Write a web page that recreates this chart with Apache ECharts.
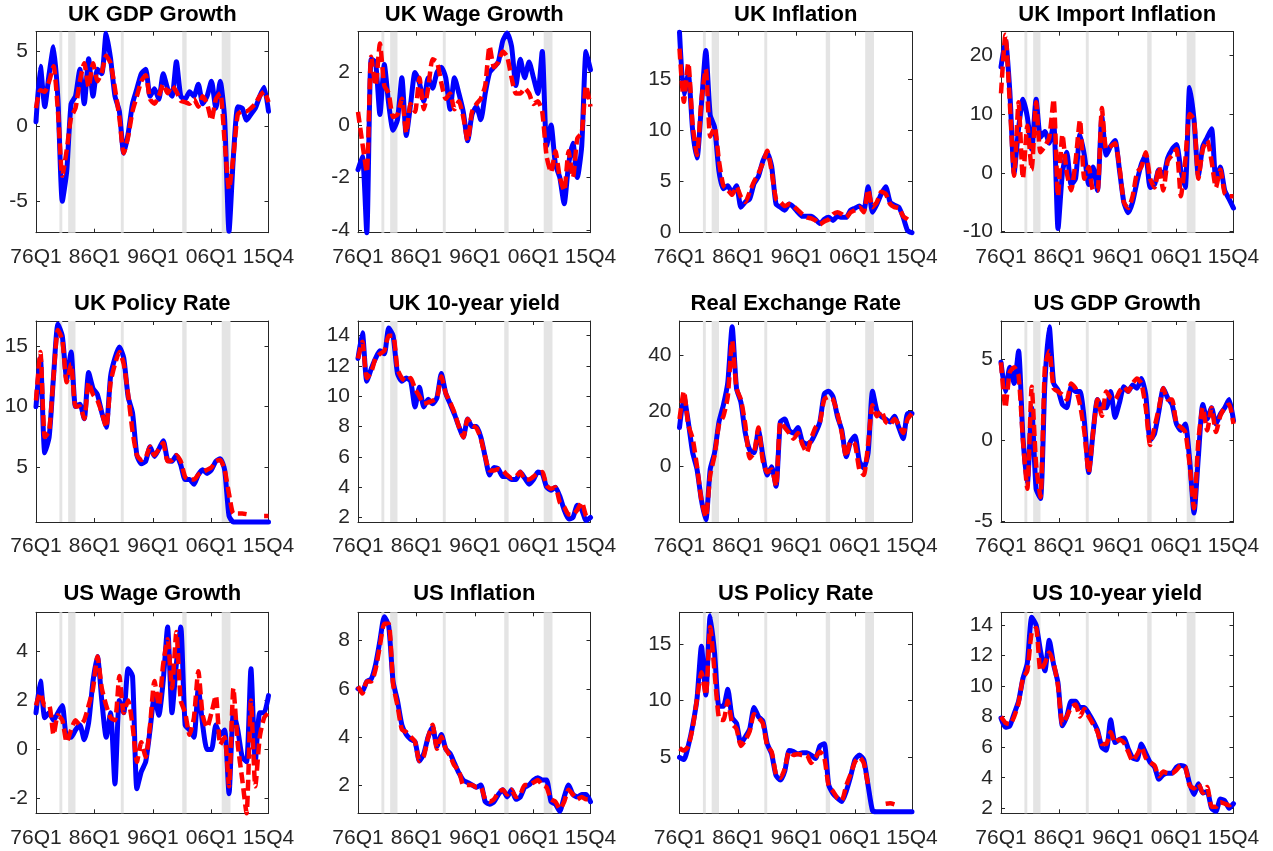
<!DOCTYPE html>
<html><head><meta charset="utf-8">
<script src="https://cdn.jsdelivr.net/npm/echarts@6/dist/echarts.min.js"></script>
<style>html,body{margin:0;padding:0;background:#fff}#c{width:1273px;height:851px}</style>
</head><body><div id="c"></div>
<script>
// quarter index: 0 = 76Q1 ... 159 = 15Q4 (sampled every 3 quarters)
const quarters = [0,3,6,9,12,15,18,21,24,27,30,33,36,39,42,45,48,51,54,57,60,63,66,69,72,75,78,81,84,87,90,93,96,99,102,105,108,111,114,117,120,123,126,129,132,135,138,141,144,147,150,153,156,159];
const xTickPos = [0,40,80,120,159];
const xTickLabels = ['76Q1','86Q1','96Q1','06Q1','15Q4'];
const recessions = [[16,18],[22,27],[58,60],[100,103],[127,133]];

const titles = ['UK GDP Growth','UK Wage Growth','UK Inflation','UK Import Inflation','UK Policy Rate','UK 10-year yield','Real Exchange Rate','US GDP Growth','US Wage Growth','US Inflation','US Policy Rate','US 10-year yield'];

const ukGdpBlue = [0.3,4.0,1.3,3.5,5.3,1.8,-5.0,-3.0,1.5, 2.0,3.8,1.5,4.5,2.0,3.8,3.5,6.2,4.5, 2.0,1.0,-1.8,-0.5,1.5,2.5,3.5,3.8,2.0, 2.5,1.8,3.5,2.5,2.0,4.3,2.0,1.8,2.3, 2.0,2.8,1.5,2.0,3.0,1.2,3.0,0.5,-7.0, -2.0,1.3,1.2,0.4,0.8,1.2,2.0,2.6,1.0];
const ukGdpRed = [1.2,2.4,2.3,3.0,4.0,1.0,-3.3,-1.6,0.6, 1.2,3.0,4.2,2.6,4.2,3.0,3.6,4.7,4.2, 2.5,0.6,-1.8,-0.7,1.0,2.0,3.0,3.4,1.8, 1.5,2.0,2.8,2.2,2.7,2.3,1.7,1.6,1.5, 1.8,1.3,2.0,1.5,0.4,1.8,2.2,-1.0,-4.2, -2.0,0.8,1.0,1.0,1.2,1.5,2.0,2.3,1.6];

const ukWageBlue = [-1.7,-1.2,-4.1,2.5,2.4,0.4,2.3,0.8,-0.2, 0.2,1.8,-0.4,0.8,2.0,1.6,0.9,1.8,1.4, 2.0,2.2,1.8,0.6,1.8,1.2,0.5,-0.6,0.4, 0.7,0.2,1.2,2.0,2.2,2.4,3.2,3.5,3.0, 1.5,2.5,1.8,2.4,1.8,1.2,2.8,-0.8,0.0, -1.5,-2.0,-3.0,-1.5,-0.7,-2.0,-0.8,2.8,2.1];
const ukWageRed = [0.5,-0.7,-1.8,2.6,1.5,3.1,1.5,1.2,0.3, 0.4,1.0,-0.3,0.8,0.5,1.8,0.6,1.4,2.5, 2.4,1.6,1.0,1.2,0.6,0.9,0.3,-0.6,0.5, 0.8,1.0,1.5,3.0,2.2,2.4,2.8,2.6,1.8, 1.2,1.2,1.4,1.2,0.8,0.9,0.5,-1.2,-1.8, -1.0,-2.0,-2.5,-1.0,-2.0,-0.5,-0.3,1.5,0.7];

const ukInflBlue = [19.6,13.5,15.5,10.0,7.3,12.5,17.8,11.5,10.3, 6.0,4.3,4.6,3.9,4.6,2.5,3.0,3.3,4.8, 5.5,7.0,7.8,6.5,2.8,2.5,2.2,2.8,2.5, 2.0,1.6,1.6,1.6,1.3,0.9,1.3,1.5,1.2, 1.6,1.5,1.5,2.2,2.4,2.6,2.2,4.5,2.0, 2.8,3.8,4.5,3.0,2.7,2.5,1.5,0.2,0.0];
const ukInflRed = [18.0,12.8,16.6,10.5,7.6,13.0,16.0,9.4,10.3, 7.0,4.6,4.2,3.7,4.5,3.5,3.0,4.0,5.0, 5.8,6.8,8.0,6.0,3.3,3.0,2.6,2.8,2.6, 2.2,1.8,1.5,1.4,1.2,0.8,1.1,1.3,1.8, 2.0,1.8,1.5,2.0,2.2,2.5,2.0,4.2,2.5, 3.0,4.0,3.8,2.8,2.5,2.4,1.6,1.3,1.0];

const ukImpBlue = [18,22.5,14,0,7.5,12.5,9.5,4.0,12.5, 6.0,7.0,5.0,8.5,-9.5,0.0,3.5,-2.0,-1.0, 6.5,3.0,-2.0,1.0,-3.0,9.5,3.0,4.5,5.5, 0.5,-5.0,-6.8,-5.0,-1.5,1.5,3.0,-2.5,-2.0, 0.5,-0.5,2.5,4.0,4.8,0.5,-2.5,14.5,9.0, -0.5,4.5,6.0,7.5,-1.5,1.0,-3.0,-4.5,-6.0];
const ukImpRed = [13.5,23.5,12,-0.5,12.0,-1.0,8.0,0.5,12.0, 3.5,4.5,6.0,12.5,-4.0,6.5,0.0,-3.0,2.0, 9.0,-1.0,1.0,-3.0,-3.0,11.0,4.0,4.5,5.0, 1.0,-5.0,-6.0,-4.0,0.0,1.0,3.5,-1.0,-2.5, 1.0,-3.0,2.0,3.0,4.0,-4.0,2.0,10.0,9.0, -1.0,4.0,5.5,2.0,-2.5,0.5,-3.5,-4.0,-4.0];

const ukPolBlue = [10.0,14.0,6.2,7.5,12.5,16.8,15.8,12.3,14.5, 10.0,10.2,9.0,12.8,11.5,11.0,9.5,8.3,12.5, 14.0,14.9,14.0,10.8,9.5,6.0,5.3,5.5,6.7, 5.9,6.5,7.2,5.6,5.5,6.0,5.2,4.0,4.0, 3.6,4.4,4.8,4.5,4.8,5.5,5.7,4.8,1.0, 0.5,0.5,0.5,0.5,0.5,0.5,0.5,0.5,0.5];
const ukPolRed = [10.5,14.5,7.5,8.0,12.5,16.3,15.5,12.0,13.5, 10.0,10.0,9.0,12.0,11.0,10.5,9.5,8.3,12.0, 13.5,14.5,13.5,11.0,8.0,6.0,5.6,5.8,6.7, 6.0,6.5,7.0,5.5,5.6,6.0,5.5,4.2,4.0, 4.0,4.4,4.6,4.8,5.0,5.5,5.6,4.8,2.8, 1.2,1.2,1.2,1.15,null,null,null,1.0,1.0];

const ukTenBlue = [12.5,14.2,11.0,11.8,12.5,13.0,12.8,14.5,14.0, 11.5,11.0,11.2,11.0,9.3,10.6,9.3,9.8,9.5, 9.9,11.5,10.2,9.5,8.8,8.0,7.3,8.5,8.0, 8.0,7.3,6.0,4.8,5.3,5.2,4.7,4.7,4.5, 4.5,5.0,4.6,4.2,4.5,5.0,4.9,4.0,3.8, 4.0,3.4,2.5,1.9,2.0,2.8,2.5,1.8,2.0];
const ukTenRed = [12.5,13.6,11.2,11.6,12.5,12.8,13.0,14.0,14.0, 11.8,11.2,11.0,11.2,10.5,10.0,9.5,9.6,9.7, 9.9,11.3,10.2,9.6,8.9,8.0,7.3,8.5,8.1, 7.9,7.2,6.0,5.1,5.1,5.2,5.1,4.8,4.6, 4.7,5.0,4.5,4.5,4.7,4.9,5.0,4.1,3.9, 4.0,3.0,2.7,2.2,2.2,2.5,3.0,2.1,2.0];

const rerBlue = [14,25,16,5,-1,-12,-19,-1,5, 16,22,30,50,28,23,12,6,5, 13,4,-3,0,-7,16,17,13,12, 14,9,8,9,12,16,26,27,25, 18,13,3.5,9,11,2,-0.5,5,27, 20,18,17,16,18,14,10,19,19];
const rerRed = [17,27,15,10,0,-12,-18,-3,4, 15,18,25,45,28,24,15,3,5, 14,2,-2,-1,-7,16,14,12,10, 12,8,5,10,14,16,24,25,24, 19,12,3.5,9,8,-1,-3,8,22, 18,20,16,15,17,15,12,17,19];

const usGdpBlue = [4.8,3.0,4.5,3.5,5.5,0.2,-2.7,2.0,-3.0, -3.6,3.5,7.0,3.5,3.1,2.2,2.0,3.3,3.0, 3.0,1.2,-2.0,0.5,2.5,2.0,2.0,3.0,1.4, 2.3,3.3,3.0,3.4,3.2,3.8,2.8,0.0,0.4, 1.8,3.2,2.6,2.2,1.0,0.6,1.0,-1.2,-4.5, -1.0,2.2,1.3,2.0,1.0,1.6,2.0,2.5,1.2];
const usGdpRed = [4.8,2.0,4.2,4.5,4.0,0.0,-3.0,3.3,-1.5, -3.5,4.5,5.5,3.2,3.0,2.8,2.5,3.5,3.2, 2.2,0.5,-2.0,0.5,2.5,1.5,3.0,2.6,2.5, 3.0,3.3,3.0,3.5,3.8,3.5,2.0,-0.3,0.8, 2.0,3.2,2.5,2.5,1.0,0.8,0.5,-1.5,-4.2, 0.0,2.0,0.6,2.0,0.5,1.5,2.0,2.2,1.0];

const usWageBlue = [1.5,2.8,1.3,1.5,1.2,1.5,1.8,0.5,0.5, 0.8,1.0,0.4,1.1,2.8,3.8,2.0,0.5,1.5, -1.4,2.0,1.5,3.3,3.0,-1.6,-0.9,-0.5,0.8, 2.2,1.4,2.8,5.0,1.5,3.5,5.0,1.0,0.8, 0.5,2.5,1.0,0.0,0.0,1.0,0.6,0.8,-1.8, 1.5,0.8,-0.3,-0.5,3.3,-0.5,1.5,1.5,2.2];
const usWageRed = [1.8,2.3,1.8,1.8,0.6,1.4,1.2,0.3,0.8, 1.2,1.0,1.2,1.8,2.5,3.8,2.5,1.8,1.3, 1.2,3.0,1.5,2.0,1.0,-0.5,0.3,-0.3,1.0, 2.8,1.8,3.5,4.5,2.5,4.8,2.0,1.5,0.6, 1.3,3.2,1.4,0.9,1.5,2.2,0.2,0.5,-1.5, 2.5,0.2,-1.2,-2.6,2.0,-1.5,0.5,1.3,1.5];

const usInflBlue = [6.0,5.9,6.3,6.4,7.0,8.0,9.0,8.6,6.3, 5.5,4.5,4.1,3.9,3.8,3.0,3.3,4.0,4.4, 3.6,4.1,3.5,3.3,2.9,2.5,2.2,2.1,2.0, 1.9,2.0,1.3,1.2,1.3,1.6,1.8,1.5,1.8, 1.4,1.5,1.9,2.0,2.2,2.3,2.2,2.2,1.3, 1.2,0.9,1.5,2.0,1.6,1.5,1.6,1.6,1.3];
const usInflRed = [6.1,5.8,6.3,6.3,6.8,7.8,8.7,8.7,6.2, 5.3,4.3,4.2,4.0,3.8,3.0,3.2,4.0,4.5, 3.5,4.0,3.5,3.2,2.8,2.6,2.0,2.0,2.0, 1.9,1.9,1.4,1.3,1.4,1.7,1.8,1.6,1.8, 1.5,1.6,2.0,2.0,2.1,2.2,2.0,1.9,1.4, 1.3,1.0,1.3,1.8,1.6,1.4,1.5,1.4,1.4];

const usPolBlue = [5.0,4.8,6.0,7.8,10.2,14.8,10.5,17.5,14.2, 9.5,9.5,11.0,8.5,8.0,6.2,6.8,7.5,9.4, 8.6,8.2,6.2,5.3,3.4,3.0,3.8,5.6,5.5, 5.3,5.4,5.4,5.2,4.9,6.0,6.2,2.6,1.8, 1.4,1.1,2.0,3.3,4.8,5.2,4.8,2.5,0.3, 0.2,0.2,0.2,0.2,0.2,0.2,0.2,0.2,0.2];
const usPolRed = [5.8,5.6,6.0,7.6,10.2,12.5,10.5,16.5,12.5, 8.4,8.3,10.0,8.0,7.5,6.0,6.5,7.3,8.8, 8.5,8.0,6.0,5.5,3.5,3.2,4.0,5.5,5.2, 5.3,5.2,5.2,4.5,5.0,5.5,5.0,2.5,2.0, 1.4,1.2,2.5,3.5,4.6,5.0,4.5,2.5,null, null,null,0.9,0.95,0.85,null,null,null,null];

const usTenBlue = [7.9,7.3,7.4,8.2,9.0,10.5,11.5,14.5,14.0, 12.3,11.0,13.0,11.4,10.2,7.4,8.0,9.0,9.0, 8.6,8.6,8.2,7.7,7.1,6.0,5.8,7.8,6.3, 6.5,6.6,5.9,5.3,5.2,6.2,5.6,5.0,4.7, 3.9,4.2,4.3,4.3,4.7,4.8,4.7,3.6,2.9, 3.6,3.0,3.1,2.0,1.8,2.6,2.5,2.0,2.3];
const usTenRed = [8.0,7.6,7.5,8.0,8.9,10.5,11.0,13.5,13.8, 11.0,11.5,12.2,11.5,10.0,7.5,8.0,8.6,8.8, 8.0,8.5,8.0,7.5,7.0,6.2,6.2,7.0,6.3, 6.5,6.3,5.7,5.1,5.5,6.0,5.3,5.0,4.8, 4.1,4.4,4.3,4.3,4.5,4.8,4.7,3.5,3.3, 3.6,3.0,3.4,2.1,2.1,2.4,2.3,2.2,2.5];

const blueSeries = [ukGdpBlue,ukWageBlue,ukInflBlue,ukImpBlue,ukPolBlue,ukTenBlue,rerBlue,usGdpBlue,usWageBlue,usInflBlue,usPolBlue,usTenBlue];
const redSeries = [ukGdpRed,ukWageRed,ukInflRed,ukImpRed,ukPolRed,ukTenRed,rerRed,usGdpRed,usWageRed,usInflRed,usPolRed,usTenRed];

const yMins = [-7.1,-4.1,0,-10.2,0.5,1.7,-19.8,-5.05,-2.6,0.82,0.06,1.67];
const yMaxs = [6.3,3.55,19.65,24,17.05,14.97,52.1,7.35,5.6,9.18,17.8,14.83];
const yTicks = [[-5,0,5],[-4,-2,0,2],[0,5,10,15],[-10,0,10,20],[5,10,15],[2,4,6,8,10,12,14],[0,20,40],[-5,0,5],[-2,0,2,4],[2,4,6,8],[5,10,15],[2,4,6,8,10,12,14]];

const lefts = [36,358,679.5,1001], tops = [31.7,321,612.3], W = 232.5, H = 201;
const titleY = [14.5,304,594];
const AX = '#262626';
const FONT = 'Liberation Sans, Arial, Helvetica, sans-serif';

const grid = [], xAxis = [], yAxis = [], series = [], graphic = [];
for (let i = 0; i < 12; i++) {
  const r = Math.floor(i / 4), c = i % 4;
  grid.push({left: lefts[c], top: tops[r], width: W, height: H, containLabel: false});
  const xBase = {type: 'value', gridIndex: i, min: 0, max: 159,
    axisLine: {show: true, onZero: false, lineStyle: {color: AX, width: 1}},
    splitLine: {show: false}};
  xAxis.push(Object.assign({}, xBase, {position: 'bottom',
    axisTick: {show: true, inside: true, length: 4, lineStyle: {color: AX}, customValues: xTickPos},
    axisLabel: {show: true, customValues: xTickPos, margin: 14, fontSize: 21, fontFamily: FONT, color: AX,
      formatter: v => { const k = xTickPos.indexOf(Math.round(v)); return k >= 0 ? xTickLabels[k] : ''; }}}));
  xAxis.push(Object.assign({}, xBase, {position: 'top',
    axisTick: {show: true, inside: true, length: 4, lineStyle: {color: AX}, customValues: xTickPos},
    axisLabel: {show: false}}));
  const yBase = {type: 'value', gridIndex: i, min: yMins[i], max: yMaxs[i],
    axisLine: {show: true, onZero: false, lineStyle: {color: AX, width: 1}},
    splitLine: {show: false}};
  yAxis.push(Object.assign({}, yBase, {position: 'left',
    axisTick: {show: true, inside: true, length: 4, lineStyle: {color: AX}, customValues: yTicks[i]},
    axisLabel: {show: true, customValues: yTicks[i], margin: 8, fontSize: 21, fontFamily: FONT, color: AX}}));
  yAxis.push(Object.assign({}, yBase, {position: 'right',
    axisTick: {show: true, inside: true, length: 4, lineStyle: {color: AX}, customValues: yTicks[i]},
    axisLabel: {show: false}}));

  series.push({type: 'line', xAxisIndex: 2*i, yAxisIndex: 2*i, data: [], z: 1, silent: true,
    markArea: {silent: true, itemStyle: {color: '#e4e4e4'},
      data: recessions.map(b => [{xAxis: b[0]}, {xAxis: b[1]}])}});
  series.push({type: 'line', xAxisIndex: 2*i, yAxisIndex: 2*i, z: 2, symbol: 'none', clip: false, smooth: 0.2,
    data: quarters.map((q, k) => [q, blueSeries[i][k]]),
    lineStyle: {color: '#0000ff', width: 5, cap: 'round', join: 'round'}});
  series.push({type: 'line', xAxisIndex: 2*i, yAxisIndex: 2*i, z: 3, symbol: 'none', clip: false, smooth: 0.2,
    connectNulls: false,
    data: quarters.map((q, k) => [q, redSeries[i][k]]),
    lineStyle: {color: '#ff0000', width: 4.5, type: [11, 5], cap: 'butt', join: 'round'}});

  graphic.push({type: 'text', x: lefts[c] + W / 2, y: titleY[r], silent: true,
    style: {text: titles[i], fontSize: 22, fontWeight: 'bold', fontFamily: FONT, fill: '#000',
      align: 'center', verticalAlign: 'middle'}});
}

const chart = echarts.init(document.getElementById('c'), null, {renderer: 'canvas'});
chart.setOption({animation: false, backgroundColor: '#fff', grid, xAxis, yAxis, series, graphic});
</script></body></html>
